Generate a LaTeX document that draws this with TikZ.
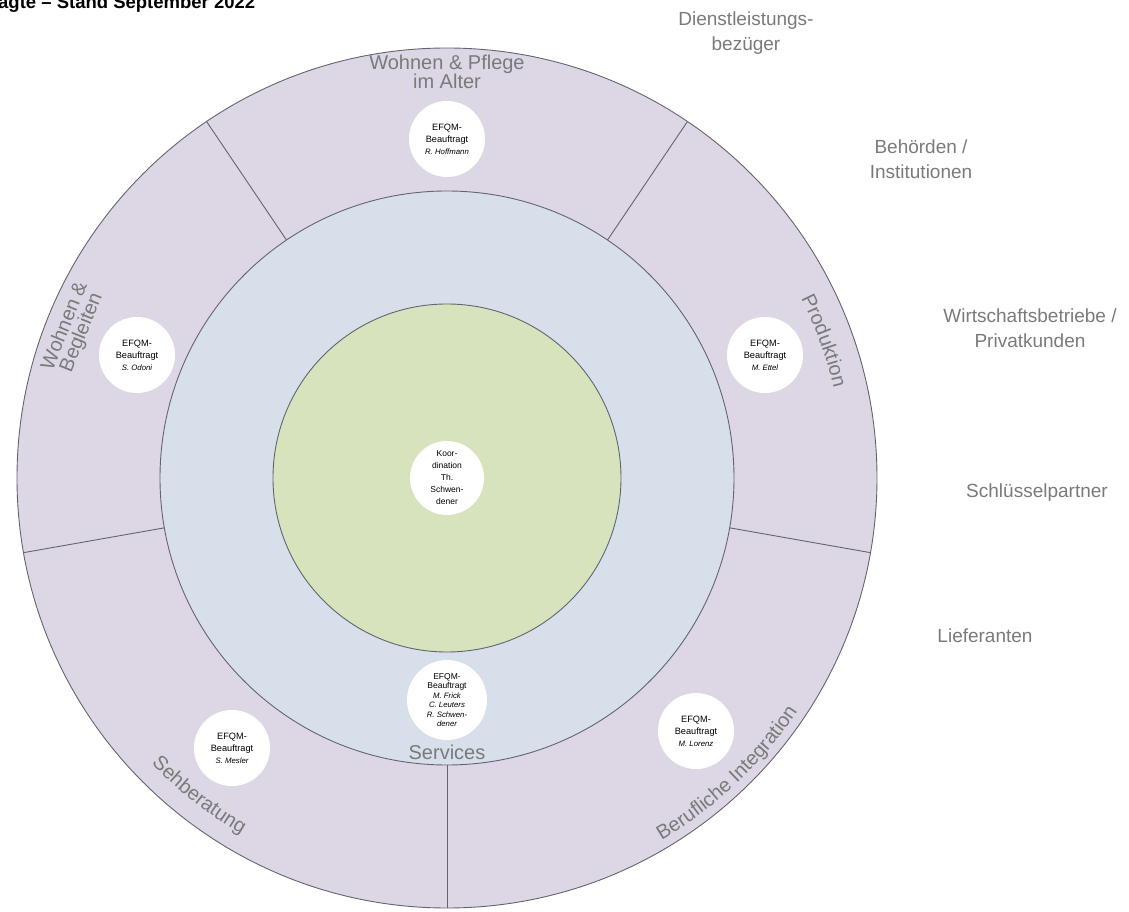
\documentclass[tikz,border=0pt]{standalone}
\usepackage{fontspec}
\setmainfont{Liberation Sans}
\usetikzlibrary{positioning,decorations.text}

\definecolor{ringlila}{RGB}{221,215,229}
\definecolor{ringblau}{RGB}{214,223,234}
\definecolor{kerngruen}{RGB}{215,227,189}
\definecolor{linie}{RGB}{100,100,112}
\definecolor{schrift}{RGB}{122,122,122}

\newcommand{\person}[1]{{\itshape\fontsize{7.8}{9}\selectfont #1}}
\newcommand{\bereichfont}{\fontsize{20}{20}\selectfont}

\begin{document}
\begin{tikzpicture}[x=1pt,y=1pt,
    beauftragt/.style={shape=circle, fill=white, minimum size=76pt, inner sep=0pt,
        align=center, font=\fontsize{9.2}{12}\selectfont},
    bereich/.style={text=schrift, align=center, font=\fontsize{20}{18}\selectfont},
    bogentext/.style={decorate, decoration={text along path, text align=center,
        text color=schrift, text={|\bereichfont|#1}}},
    gruppe/.style={text=schrift, align=center, font=\fontsize{19}{25}\selectfont}]
    \useasboundingbox (-447,-434) rectangle (682,478);

    % Ringe und Trennlinien
    \draw [draw=linie, line width=0.9pt, fill=ringlila] (0,0) circle (430);
    \foreach \a in {56,124,190,270,350}
        \draw [draw=linie, -, line width=0.9pt] (\a:287) to (\a:430);
    \draw [draw=linie, line width=0.9pt, fill=ringblau] (0,0) circle (287);
    \draw [draw=linie, line width=0.9pt, fill=kerngruen] (0,0) circle (174);

    % Bereiche
    \node[bereich] (pflege) at (90:406) {Wohnen \& Pflege\\im Alter};
    \node[bereich, rotate=68] (begleiten) at (158.3:402) {Wohnen \&\\Begleiten};
    \path[bogentext=Produktion] (40:397) arc[start angle=40, end angle=0, radius=397];
    \path[bogentext=Sehberatung] (212:411) arc[start angle=212, end angle=252, radius=411];
    \path[bogentext=Berufliche Integration] (290:421) arc[start angle=290, end angle=337, radius=421];
    \node[bereich] (services) at (270:274) {Services};

    % Beauftragte
    \node[beauftragt] (hoffmann) at (90:339) {EFQM-\\Beauftragt\\\person{R. Hoffmann}};
    \node[beauftragt] (odoni) at (-310,123) {EFQM-\\Beauftragt\\\person{S. Odoni}};
    \node[beauftragt] (ettel) at (318,123) {EFQM-\\Beauftragt\\\person{M. Ettel}};
    \node[beauftragt] (mesler) at (-215,-270) {EFQM-\\Beauftragt\\\person{S. Mesler}};
    \node[beauftragt] (lorenz) at (249,-253) {EFQM-\\Beauftragt\\\person{M. Lorenz}};
    \node[beauftragt, minimum size=80pt, font=\fontsize{8.5}{9.5}\selectfont] (frick) at (0,-222)
        {EFQM-\\Beauftragt\\\person{M. Frick}\\\person{C. Leuters}\\\person{R. Schwen-}\\\person{dener}};
    \node[beauftragt, minimum size=74pt, font=\fontsize{8.5}{12}\selectfont] (koordination) at (0,0)
        {Koor-\\dination\\Th.\\Schwen-\\dener};

    % Anspruchsgruppen rechts
    \node[gruppe] (bezueger) at (299,445) {Dienstleistungs-\\bezüger};
    \node[gruppe] (behoerden) at (474,319) {Behörden /\\Institutionen};
    \node[gruppe] (kunden) at (583,150) {Wirtschaftsbetriebe /\\Privatkunden};
    \node[gruppe] (partner) at (590,-15) {Schlüsselpartner};
    \node[gruppe] (lieferanten) at (538,-158) {Lieferanten};

    % Titel, links oben angeschnitten
    \node[anchor=base west, inner sep=0pt, font=\fontsize{18.5}{20}\selectfont\bfseries] (titel) at (-449,469)
        {agte – Stand September 2022};
\end{tikzpicture}
\end{document}
